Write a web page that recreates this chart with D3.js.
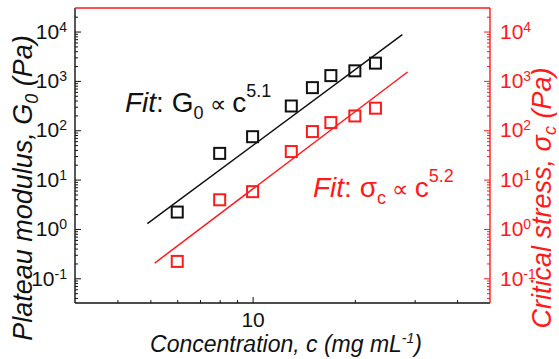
<!DOCTYPE html>
<html>
<head>
<meta charset="utf-8">
<script src="https://cdn.jsdelivr.net/npm/d3@7"></script>
<style>
  body { margin: 0; background: #fff; }
  svg { display: block; font-family: "Liberation Sans", Arial, Helvetica, sans-serif; }
</style>
</head>
<body>
<svg id="chart" width="559" height="359"></svg>
<script>
// Concentration (mg/mL) and the two measured quantities
const concentration = [6, 8, 10, 13, 15, 17, 20, 23];
const plateauModulus = [2.2, 34, 74, 310, 730, 1280, 1600, 2290];   // G0, Pa
const criticalStress = [0.22, 3.9, 5.7, 37, 94, 143, 195, 280];     // sigma_c, Pa

// Power-law fits: value = 10^logPrefactor * c^exponent over cRange
const fitExponents = [5.1, 5.2];
const fitLogPrefactors = [-3.412, -4.393];
const fitRanges = [[4.9, 27.6], [5.15, 28.6]];

// Axis ticks
const yDecadeValues = [0.1, 1, 10, 100, 1000, 10000];
const yDecadeExponents = ["-1", "0", "1", "2", "3", "4"];
const xMajorValues = [10];
const xMajorLabels = ["10"];
const xMinorValues = [4, 5, 6, 7, 8, 9, 20, 30, 40];

const BLACK = "#111";
const RED = "#ff1a1a";

const svg = d3.select("#chart");
const L = 75, R = 490, T = 8, B = 303;

const x = d3.scaleLog().domain([3, 50]).range([L, R]);
const y = d3.scaleLog().domain([0.0316, 30000]).range([B, T]);

// minor y ticks (2..9 in each decade)
const yMinor = [];
for (let e = -2; e <= 4; e++) {
  for (let k = 2; k <= 9; k++) {
    const v = k * Math.pow(10, e);
    if (v > y.domain()[0] && v < y.domain()[1]) yMinor.push(v);
  }
}

function styleAxis(g, color) {
  g.select(".domain").remove();
  g.selectAll(".tick line").attr("stroke", color).attr("stroke-width", 1);
  g.selectAll(".tick text").attr("fill", color);
}

function superscriptLabels(g, exps) {
  g.selectAll(".tick text").each(function(d, i) {
    const t = d3.select(this);
    t.text("10");
    t.append("tspan").attr("font-size", 14).attr("dy", "-0.5em").text(exps[i]);
  });
}

// left axis
const leftMinor = svg.append("g").attr("transform", `translate(${L},0)`)
  .call(d3.axisLeft(y).tickValues(yMinor).tickSize(-3).tickSizeOuter(0).tickFormat(""));
styleAxis(leftMinor, BLACK);
const leftMajor = svg.append("g").attr("transform", `translate(${L},0)`)
  .call(d3.axisLeft(y).tickValues(yDecadeValues).tickSize(-6).tickSizeOuter(0).tickPadding(8));
leftMajor.attr("font-size", 21).attr("font-family", null);
styleAxis(leftMajor, BLACK);
superscriptLabels(leftMajor, yDecadeExponents);

// right axis (same scale)
const rightMinor = svg.append("g").attr("transform", `translate(${R},0)`)
  .call(d3.axisRight(y).tickValues(yMinor).tickSize(-3).tickSizeOuter(0).tickFormat(""));
styleAxis(rightMinor, RED);
const rightMajor = svg.append("g").attr("transform", `translate(${R},0)`)
  .call(d3.axisRight(y).tickValues(yDecadeValues).tickSize(-6).tickSizeOuter(0).tickPadding(10));
rightMajor.attr("font-size", 21).attr("font-family", null);
styleAxis(rightMajor, RED);
superscriptLabels(rightMajor, yDecadeExponents);

// bottom axis
const bottomMinor = svg.append("g").attr("transform", `translate(0,${B})`)
  .call(d3.axisBottom(x).tickValues(xMinorValues).tickSize(-3).tickSizeOuter(0).tickFormat(""));
styleAxis(bottomMinor, BLACK);
const bottomMajor = svg.append("g").attr("transform", `translate(0,${B})`)
  .call(d3.axisBottom(x).tickValues(xMajorValues).tickSize(-6).tickSizeOuter(0).tickPadding(9)
    .tickFormat((d, i) => xMajorLabels[i]));
bottomMajor.attr("font-size", 21).attr("font-family", null);
styleAxis(bottomMajor, BLACK);

// frame
const frame = svg.append("g").attr("stroke-width", 1.4).attr("fill", "none");
frame.append("line").attr("x1", L).attr("x2", R).attr("y1", B).attr("y2", B).attr("stroke", BLACK);
frame.append("line").attr("x1", L).attr("x2", L).attr("y1", T).attr("y2", B).attr("stroke", BLACK);
frame.append("line").attr("x1", R).attr("x2", R).attr("y1", T).attr("y2", B).attr("stroke", RED);
frame.append("line").attr("x1", L).attr("x2", R).attr("y1", T).attr("y2", T).attr("stroke", RED);

// fit lines
const line = d3.line().x(d => x(d[0])).y(d => y(d[1]));
[BLACK, RED].forEach((color, i) => {
  const pts = fitRanges[i].map(c => [c, Math.pow(10, fitLogPrefactors[i]) * Math.pow(c, fitExponents[i])]);
  svg.append("path").attr("d", line(pts)).attr("fill", "none")
    .attr("stroke", color).attr("stroke-width", 1.5);
});

// data squares
const S = 11;
function squares(values, color) {
  svg.append("g").selectAll("rect").data(values).join("rect")
    .attr("x", (d, i) => x(concentration[i]) - S / 2)
    .attr("y", d => y(d) - S / 2)
    .attr("width", S).attr("height", S)
    .attr("fill", "none").attr("stroke", color).attr("stroke-width", 2);
}
squares(plateauModulus, BLACK);
squares(criticalStress, RED);

// fit annotations
function fitLabel(xPos, yPos, color, symbol, sub, exponent) {
  const t = svg.append("text").attr("x", xPos).attr("y", yPos)
    .attr("font-size", 28).attr("fill", color);
  t.append("tspan").attr("font-style", "italic").text("Fit");
  t.append("tspan").text(": " + symbol);
  t.append("tspan").attr("font-size", 18).attr("dy", 7).text(sub);
  t.append("tspan").attr("font-size", 23).attr("dy", -7).text(" \u221D ");
  t.append("tspan").text("c");
  t.append("tspan").attr("font-size", 18).attr("dy", -15).text(exponent);
}
fitLabel(125, 111.7, BLACK, "G", "0", fitExponents[0].toFixed(1));
fitLabel(313, 196.7, RED, "\u03C3", "c", fitExponents[1].toFixed(1));

// axis titles
const xt = svg.append("text").attr("x", 286).attr("y", 351.5).attr("text-anchor", "middle")
  .attr("font-size", 23).attr("font-style", "italic").attr("fill", BLACK);
xt.append("tspan").text("Concentration, c (mg mL");
xt.append("tspan").attr("font-size", 14).attr("dy", -9).text("-1");
xt.append("tspan").attr("dy", 9).text(")");

const lt = svg.append("text").attr("transform", "translate(32,188) rotate(-90)")
  .attr("text-anchor", "middle").attr("font-size", 27).attr("font-style", "italic").attr("fill", BLACK);
lt.append("tspan").text("Plateau modulus, G");
lt.append("tspan").attr("font-size", 18).attr("dy", 6).text("0");
lt.append("tspan").attr("dy", -6).text(" (Pa)");

const rt = svg.append("text").attr("transform", "translate(551,198) rotate(-90)")
  .attr("text-anchor", "middle").attr("font-size", 27).attr("font-style", "italic").attr("fill", RED);
rt.append("tspan").text("Critical stress, \u03C3");
rt.append("tspan").attr("font-size", 18).attr("dy", 5).text("c");
rt.append("tspan").attr("dy", -5).text(" (Pa)");
</script>
</body>
</html>
